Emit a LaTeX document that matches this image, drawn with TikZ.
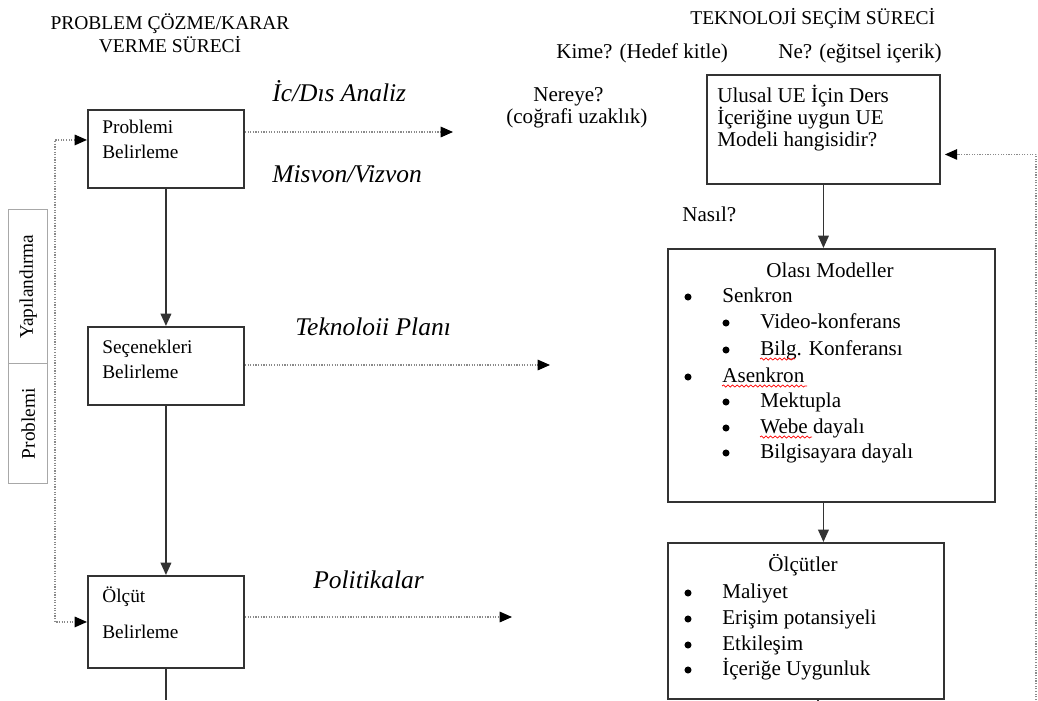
\documentclass[tikz,border=0pt]{standalone}
\usepackage{fontspec}
\setmainfont{Liberation Serif}
\usepackage{tikz}
\usetikzlibrary{arrows.meta,calc,positioning,decorations.pathmorphing}
\definecolor{cizgi}{HTML}{333333}
\definecolor{gri}{HTML}{8A8A8A}
\definecolor{acikgri}{HTML}{A8A8A8}

\begin{document}
\begin{tikzpicture}[x=0.02cm, y=-0.02cm,
      kutu/.style={draw=cizgi, line width=1.1pt, anchor=north west, inner sep=0pt},
      yanbox/.style={draw=acikgri, line width=0.8pt, anchor=north west, inner sep=0pt,
                     minimum width=0.78cm, font=\fontsize{11}{13}\selectfont},
      yazi/.style={anchor=base west, inner sep=0pt, font=\fontsize{12}{14}\selectfont},
      solyazi/.style={yazi, font=\fontsize{11}{13}\selectfont},
      egik/.style={anchor=base west, inner sep=0pt, font=\fontsize{14.5}{16}\selectfont\itshape},
      baslik/.style={inner sep=0pt, font=\fontsize{11.1}{13.5}\selectfont},
      oklu/.style={-{Triangle[length=7pt,width=6pt]}, line width=1pt, cizgi},
      noktali/.style={draw=gri, line width=0.7pt, dash pattern=on 0.7pt off 0.8pt,
                      -{Triangle[length=7pt,width=6pt,black]}},
      kirmizi/.style={red, line width=0.4pt, decorate,
                      decoration={snake, amplitude=0.6pt, segment length=2.6pt}}]
    \fill[white] (0,0) rectangle (1038,700);
    \useasboundingbox (0,0) rectangle (1038,700);

    % basliklar
    \node[baslik, anchor=north, align=center] (solbaslik) at (170,13) {PROBLEM ÇÖZME/KARAR\\VERME SÜRECİ};
    \node[baslik, anchor=base west] (sagbaslik) at (690,24) {TEKNOLOJİ SEÇİM SÜRECİ};

    % sol taraf: problem cozme
    \node[kutu, minimum width=3.12cm, minimum height=1.56cm] (prob) at (87,109) {};
    \node[kutu, minimum width=3.12cm, minimum height=1.56cm] (sec) at (87,326) {};
    \node[kutu, minimum width=3.12cm, minimum height=1.84cm] (olcut) at (87,575) {};
    \node[solyazi] (probt1) at (102,133) {Problemi};
    \node[solyazi] (probt2) at (102,158) {Belirleme};
    \node[solyazi] (sect1) at (102,353) {Seçenekleri};
    \node[solyazi] (sect2) at (102,378) {Belirleme};
    \node[solyazi] (olcutt1) at (102,602) {Ölçüt};
    \node[solyazi] (olcutt2) at (102,638) {Belirleme};

    \node[yanbox, minimum height=3.08cm] (yap) at (8,209) {};
    \node[yanbox, minimum height=2.40cm] (probyan) at (8,363) {};
    \node[rotate=90, font=\fontsize{11}{13}\selectfont] (yapt) at (yap.center) {Yapılandırma};
    \node[rotate=90, font=\fontsize{11}{13}\selectfont] (probyant) at (probyan.center) {Problemi};

    \node[egik] (icdis) at (272,101) {İc/Dıs Analiz};
    \node[egik] (misyon) at (272,182) {Misvon/Vizvon};
    \node[egik] (plan) at (295,335) {Teknoloii Planı};
    \node[egik] (polit) at (313,588) {Politikalar};

    % sag taraf: teknoloji secimi
    \node[yazi] (kime) at (556,58) {Kime? (Hedef kitle)};
    \node[yazi] (ne) at (778,58) {Ne? (eğitsel içerik)};
    \node[yazi] (nereye) at (533,101) {Nereye?};
    \node[yazi] (cografi) at (506,123) {(coğrafi uzaklık)};
    \node[yazi] (nasil) at (682,221) {Nasıl?};

    \node[kutu, minimum width=4.66cm, minimum height=2.18cm] (ulusal) at (706,74) {};
    \node[yazi] (ulusalt1) at (717,102) {Ulusal UE İçin Ders};
    \node[yazi] (ulusalt2) at (717,124) {İçeriğine uygun UE};
    \node[yazi] (ulusalt3) at (717,146) {Modeli hangisidir?};

    \node[kutu, minimum width=6.54cm, minimum height=5.06cm] (olasi) at (667,248) {};
    \node[yazi, anchor=base] (olasit) at (830,277) {Olası Modeller};
    \foreach \y/\x/\t [count=\i] in {302/722/Senkron, 328/760/Video-konferans,
        355/760/Bilg. Konferansı, 382/722/Asenkron, 407/760/Mektupla,
        433/760/Webe dayalı, 458/760/Bilgisayara dayalı} {
      \fill ({\x-34},{\y-5}) circle (2pt);
      \node[yazi] (model\i) at (\x,\y) {\t};
    }
    \draw[kirmizi] (760,359) -- (795,359);
    \draw[kirmizi] (722,386) -- (807,386);
    \draw[kirmizi] (760,437) -- (812,437);

    \node[kutu, minimum width=5.52cm, minimum height=3.12cm] (olcutler) at (667,542) {};
    \node[yazi, anchor=base] (olcutlert) at (803,571) {Ölçütler};
    \foreach \y/\t [count=\i] in {598/Maliyet, 624/Erişim potansiyeli,
        650/Etkileşim, 675/İçeriğe Uygunluk} {
      \fill (688,{\y-5}) circle (2pt);
      \node[yazi] (kriter\i) at (722,\y) {\t};
    }

    % serbest uclar
    \coordinate (ok1) at (453,132);
    \coordinate (ok2) at (550,365);
    \coordinate (ok3) at (512,617);
    \coordinate (solalt) at (165,700);
    \coordinate (sagalt) at (818,700);
    \coordinate (geri) at (1036,700);

    % oklar
    \draw[oklu] (prob) -- (sec);
    \draw[oklu] (sec) -- (olcut);
    \draw[line width=1pt, cizgi] (olcut.south) -- (olcut.south |- solalt);
    \draw[oklu] (ulusal.south) -- (ulusal.south |- olasi.north);
    \draw[oklu] (olasi.south -| ulusal.south) -- (olcutler.north -| ulusal.south);
    \draw[line width=1pt, cizgi] (olcutler.south -| sagalt) -- (sagalt);

    \draw[noktali] (prob.east |- ok1) -- (ok1);
    \draw[noktali] (sec.east |- ok2) -- (ok2);
    \draw[noktali] (olcut.east |- ok3) -- (ok3);
    \draw[noktali, {Triangle[length=7pt,width=6pt,black]}-{Triangle[length=7pt,width=6pt,black]}]
      ($(prob.west)+(0,-9)$) -- ++(-32,0) |- (olcut.west);
    \draw[noktali] (geri) |- ($(ulusal.east)+(4,25)$);
  \end{tikzpicture}
\end{document}
